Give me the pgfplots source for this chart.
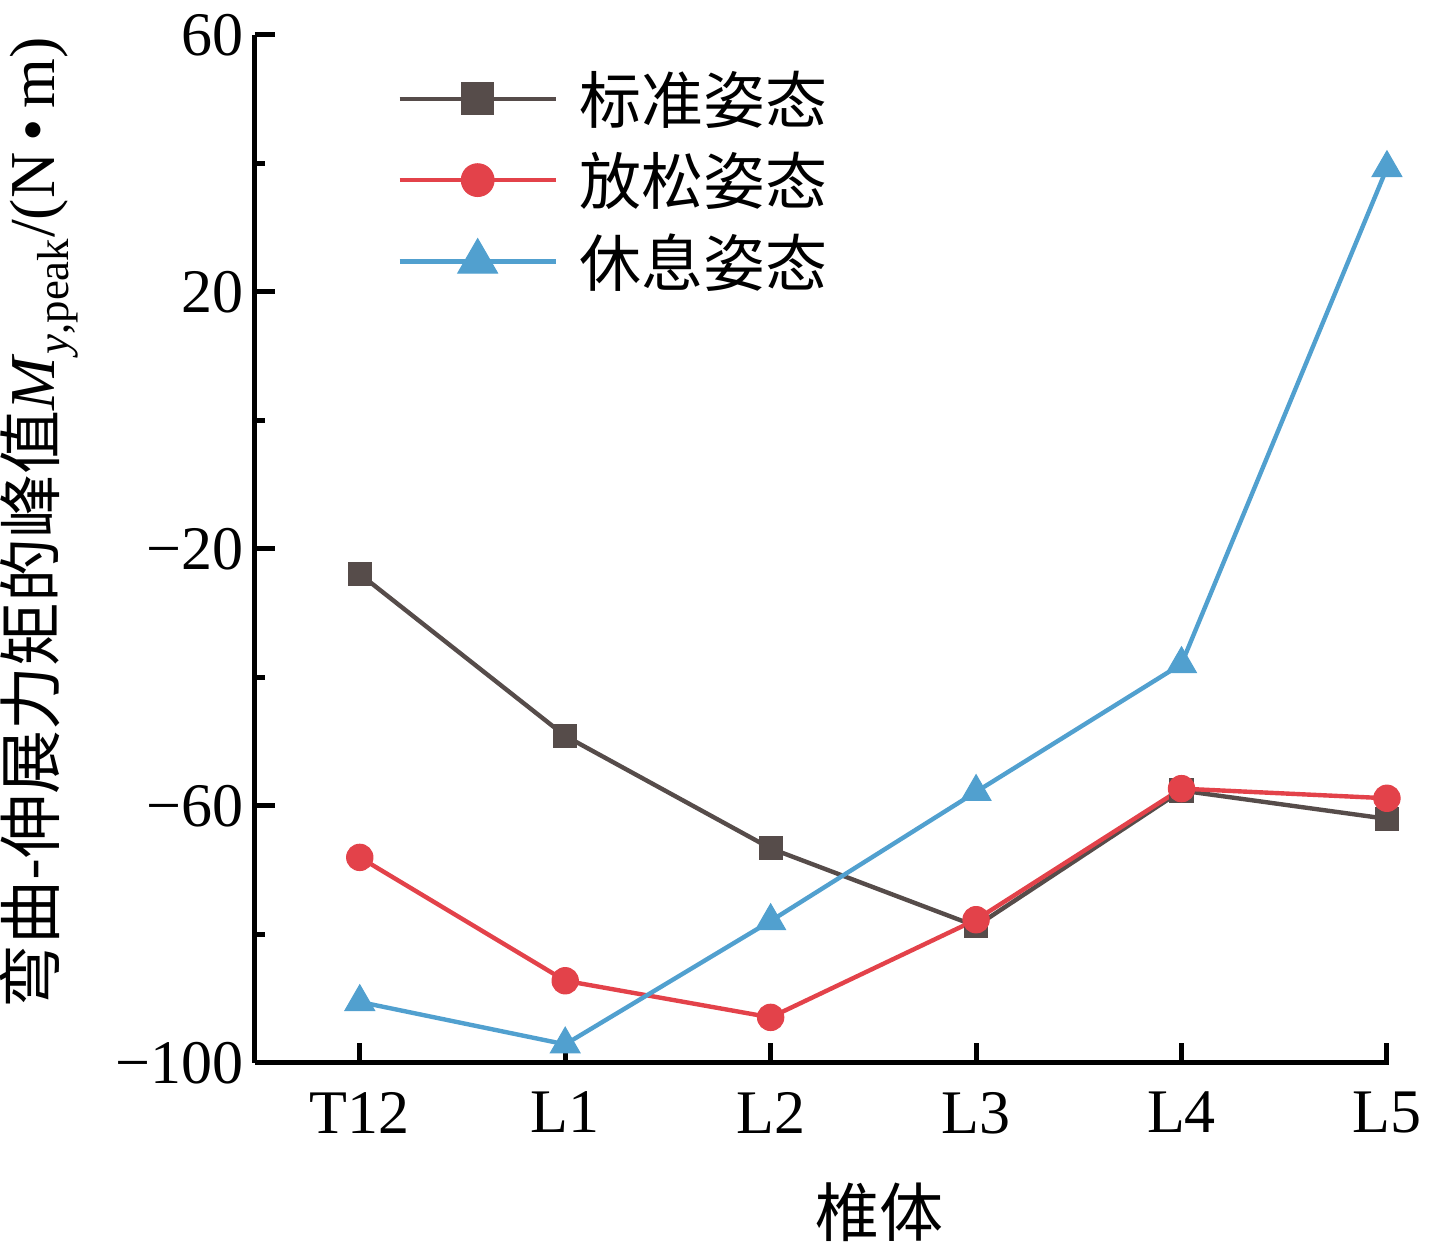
\documentclass[border=0pt]{standalone}
\usepackage{fontspec}
\setmainfont{Liberation Serif}
\newfontfamily\cjk{Noto Sans CJK SC}
\usepackage{pgfplots}
\pgfplotsset{compat=1.18}
\definecolor{cblack}{RGB}{86,76,74}
\definecolor{cred}{RGB}{227,66,74}
\definecolor{cblue}{RGB}{81,160,207}
\begin{document}
\begin{tikzpicture}
\begin{axis}[
  scale only axis, width=567pt, height=514pt,
  xmin=-0.51, xmax=5.01, ymin=-100, ymax=60,
  axis x line*=bottom, axis y line*=left,
  axis line style={line width=2.5pt, black},
  xtick={0,1,2,3,4,5}, xticklabels={T12,L1,L2,L3,L4,L5},
  ytick={-100,-60,-20,20,60}, yticklabels={−100,−60,−20,20,60},
  minor ytick={-80,-40,0,40},
  tick align=inside,
  major tick length=10pt, minor tick length=5pt,
  major tick style={line width=2.5pt, black},
  minor tick style={line width=2.5pt, black},
  tick label style={font=\fontsize{31}{36}\selectfont},
  xticklabel style={yshift=-11pt},
  yticklabel style={xshift=-2pt},
  xlabel={\cjk 椎体},
  xlabel style={font=\fontsize{32}{36}\selectfont, at={(axis description cs:0.551,-0.145)}, anchor=center},
  ylabel={{\cjk 弯曲-伸展力矩的峰值}\textit{M}\textsubscript{\textit{y},peak}/(N\,•\,m)},
  ylabel style={font=\fontsize{32}{36}\selectfont, at={(axis description cs:-0.19,0.525)}, anchor=center},
  clip=false,
  legend style={at={(axis description cs:0.12,0.973)}, anchor=north west, draw=none, fill=none,
    font=\cjk\fontsize{31}{35}\selectfont, row sep=9pt, cells={anchor=west},
    /tikz/every odd column/.append style={column sep=9pt}},
  legend cell align=left,
  legend image code/.code={\draw[mark repeat=2,mark phase=2] plot coordinates {(0pt,0pt) (39pt,0pt) (78pt,0pt)};},
]
\addplot[color=cblack, line width=2.2pt, mark=square*, mark size=5.8pt, mark options={fill=cblack, draw=cblack, line width=0.5pt}, legend image post style={mark size=8pt}]
  coordinates {(0,-23.9) (1,-49.1) (2,-66.6) (3,-78.7) (4,-57.6) (5,-62.0)};
\addlegendentry{标准姿态}
\addplot[color=cred, line width=2.2pt, mark=*, mark size=6.6pt, mark options={fill=cred, draw=cred, line width=0.5pt}, legend image post style={mark size=8.2pt}]
  coordinates {(0,-68.0) (1,-87.2) (2,-92.9) (3,-77.7) (4,-57.3) (5,-58.8)};
\addlegendentry{放松姿态}
\addplot[color=cblue, line width=2.2pt, mark=triangle*, mark size=8.6pt, mark options={fill=cblue, draw=cblue, line width=0.5pt}, legend image post style={mark size=11.5pt}]
  coordinates {(0,-90.5) (1,-97.1) (2,-77.9) (3,-57.8) (4,-37.9) (5,39.3)};
\addlegendentry{休息姿态}
\end{axis}
\pgfresetboundingbox
\path[use as bounding box] ([shift={(-127.5pt,-93.5pt)}]current axis.south west) rectangle ([shift={(23pt,17.5pt)}]current axis.north east);
\end{tikzpicture}
\end{document}
